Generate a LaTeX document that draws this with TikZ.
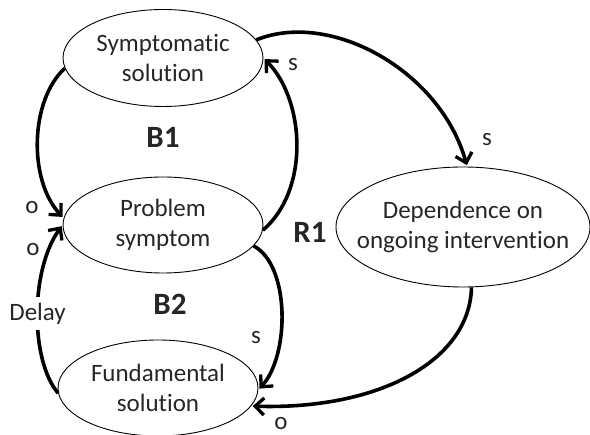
\documentclass[tikz,border=0pt]{standalone}
\usepackage{fontspec}
\setmainfont{Carlito}[Ligatures={NoCommon,NoRare}]
\usetikzlibrary{shapes.geometric,arrows.meta}
\begin{document}
\begin{tikzpicture}[x=1pt,y=-1pt,
  var/.style={draw, ellipse, line width=0.9pt, inner xsep=-20pt, inner ysep=0pt,
    align=center, font=\fontsize{25}{30}\selectfont, text=black!85},
  link/.style={line width=3.6pt, shorten >=1.5pt,
    -{Straight Barb[length=9pt,width=17pt,line width=3.3pt]}},
  pol/.style={font=\fontsize{25}{30}\selectfont, text=black!85},
  loopname/.style={font=\fontsize{31}{36}\selectfont\bfseries, text=black!85}]
\useasboundingbox (0,0) rectangle (590,435);

% variables
\node[var, minimum width=200pt, minimum height=97pt] (ss) at (163,58) {Symptomatic\\solution};
\node[var, minimum width=200pt, minimum height=96pt] (ps) at (163,225) {Problem\\symptom};
\node[var, minimum width=200pt, minimum height=96pt] (fs) at (158,388) {Fundamental\\solution};
\node[var, minimum width=254pt, minimum height=120pt] (dep) at (463,227) {Dependence on\\ongoing intervention};

% causal links
\draw[link] (ss.186) .. controls (30,100) and (28,180) .. (ps.176);
\draw[link] (ps.-3) .. controls (310,190) and (305,100) .. (ss.0);
\draw[link] (ss.11) .. controls (330,10) and (440,70) .. (dep.86);
\draw[link] (ps.-13) .. controls (290,265) and (290,355) .. (fs.-1);
\draw[link] (dep.-82) .. controls (470,360) and (380,410) .. (fs.-11);
\draw[link] (fs.183) .. controls (30,360) and (30,270)
  .. node[pos=0.5, fill=white, inner xsep=3pt, inner ysep=6pt, pol] (delay) {Delay} (ps.180);

% polarities
\node[pol] (p1) at (32,208) {o};
\node[pol] (p2) at (33,250) {o};
\node[pol] (p3) at (293,65) {s};
\node[pol] (p4) at (487,140) {s};
\node[pol] (p5) at (256,338) {s};
\node[pol] (p6) at (281,424) {o};

% loop names
\node[loopname] (b1) at (163,137) {B1};
\node[loopname] (b2) at (170,304) {B2};
\node[loopname] (r1) at (310,232) {R1};
\end{tikzpicture}
\end{document}
